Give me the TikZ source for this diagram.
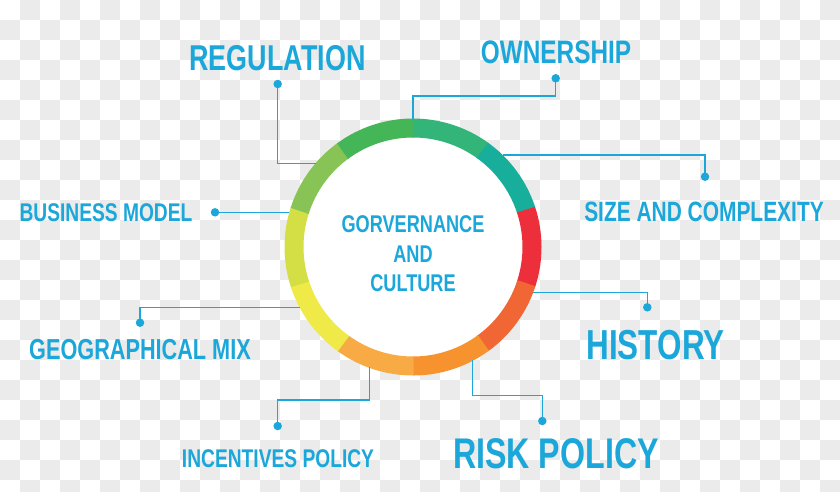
\documentclass[tikz,border=0pt]{standalone}
\usepackage{fontspec}
\setmainfont{Liberation Sans}[FakeStretch=0.75]
\usetikzlibrary{calc,positioning}
\definecolor{skyblue}{RGB}{27,167,217}
\definecolor{checkgray}{RGB}{235,235,235}
\definecolor{seggreen}{RGB}{51,181,122}
\definecolor{segteal}{RGB}{23,175,155}
\definecolor{segred}{RGB}{236,47,59}
\definecolor{segvermil}{RGB}{240,102,52}
\definecolor{segorange}{RGB}{246,147,47}
\definecolor{segapricot}{RGB}{248,170,69}
\definecolor{segyellow}{RGB}{239,234,72}
\definecolor{seglime}{RGB}{212,222,69}
\definecolor{seglightgreen}{RGB}{136,196,85}
\definecolor{segleaf}{RGB}{69,182,87}

\begin{document}
\begin{tikzpicture}[x=1pt,y=-1pt,>=stealth]
        \tikzstyle{point}=[circle,fill=skyblue,inner sep=0pt,minimum size=8.5pt]
        \tikzstyle{wire}=[skyblue,line width=1.3pt]
        \tikzstyle{tag}=[skyblue,inner sep=0pt]
        \useasboundingbox (0,0) rectangle (840,491);

        % Checker background
        \begin{scope}
            \clip (0,0) rectangle (840,491);
            \fill[white] (0,0) rectangle (840,491);
            \foreach \i in {0,...,41}
                \foreach \j in {0,...,24}{
                    \pgfmathtruncatemacro{\odd}{mod(\i+\j,2)}
                    \ifnum\odd=1 \fill[checkgray] (20*\i,20*\j) rectangle ++(20,20); \fi
                }
        \end{scope}

        % Ring
        \coordinate (hub) at (413,247);
        \fill[white] (hub) circle (112);
        \foreach \col [count=\k] in {seggreen,segteal,segred,segvermil,segorange,segapricot,segyellow,seglime,seglightgreen,segleaf}{
            \pgfmathsetmacro{\a}{-126+36*\k}
            \draw[\col,line width=19pt] (hub) ++(\a-0.3:119) arc (\a-0.3:\a+36:119);
        }

        % Centre text
        \node[tag,align=center,font=\bfseries\fontsize{24.2}{29.5}\selectfont] (gov) at (413,253.8) {GORVERNANCE\\AND\\CULTURE};

        % Labels
        \node[tag,font=\bfseries\fontsize{35.9}{40}\selectfont] (regulation) at (277.5,58) {REGULATION};
        \node[tag,font=\bfseries\fontsize{32.5}{36}\selectfont] (ownership) at (556,52.3) {OWNERSHIP};
        \node[tag,font=\bfseries\fontsize{25.6}{30}\selectfont] (business) at (106,212.5) {BUSINESS MODEL};
        \node[tag,font=\bfseries\fontsize{27.9}{32}\selectfont] (size) at (704,211.7) {SIZE AND COMPLEXITY};
        \node[tag,font=\bfseries\fontsize{28.9}{33}\selectfont] (geo) at (140,349.7) {GEOGRAPHICAL MIX};
        \node[tag,font=\bfseries\fontsize{41.9}{46}\selectfont] (history) at (655.5,345) {HISTORY};
        \node[tag,font=\bfseries\fontsize{25.6}{30}\selectfont] (incentives) at (278,459) {INCENTIVES POLICY};
        \node[tag,font=\bfseries\fontsize{42.9}{47}\selectfont] (risk) at (556,453.7) {RISK POLICY};

        % Dots
        \node[point] (regdot) at (277.7,84) {};
        \node[point] (owndot) at (555.7,78.3) {};
        \node[point] (busdot) at (215,212.3) {};
        \node[point] (sizedot) at (705,176.7) {};
        \node[point] (geodot) at (140,322.7) {};
        \node[point] (hisdot) at (647.3,307.3) {};
        \node[point] (incdot) at (277.7,426) {};
        \node[point] (riskdot) at (542.3,421) {};

        % Ends on the ring
        \coordinate (regin) at (315.5,163.3);
        \coordinate (ownin) at (413,119);
        \coordinate (busin) at (289.3,212.3);
        \coordinate (sizein) at (503.3,155);
        \coordinate (geoin) at (299.7,307.7);
        \coordinate (hisin) at (533.3,292.3);
        \coordinate (incin) at (369.3,367);
        \coordinate (riskin) at (472.7,359.5);

        % Connectors
        \draw[wire] (regdot.center) |- (regin);
        \draw[wire] (owndot.center) -- ++(0,17.7) -| (ownin);
        \draw[wire] (busdot.center) -- (busin);
        \draw[wire] (sizein) -| (sizedot.center);
        \draw[wire] (geoin) -| (geodot.center);
        \draw[wire] (hisin) -| (hisdot.center);
        \draw[wire] (incin) -- ++(0,33) -| (incdot.center);
        \draw[wire] (riskin) -- ++(0,36.2) -| (riskdot.center);
\end{tikzpicture}
\end{document}
